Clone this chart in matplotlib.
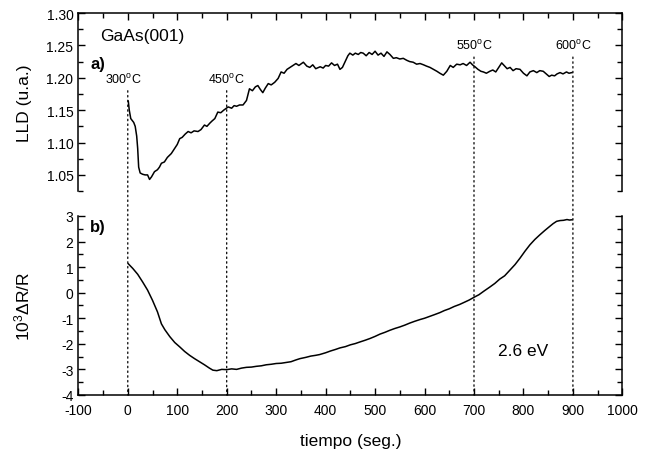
import matplotlib
matplotlib.use("Agg")
import matplotlib.pyplot as plt
from matplotlib.patches import ConnectionPatch
from matplotlib.ticker import MultipleLocator

plt.rcParams["font.family"] = ["Liberation Sans", "DejaVu Sans"]
plt.rcParams["mathtext.fontset"] = "custom"
plt.rcParams["mathtext.rm"] = "Liberation Sans"
plt.rcParams["mathtext.it"] = "Liberation Sans:italic"
plt.rcParams["axes.unicode_minus"] = False

# panel a) LLD signal vs time
lld_t = [1, 3, 6, 9, 12, 15, 18, 20, 22, 25,
         30, 35, 40, 44, 48, 54, 60, 64, 68, 74,
         80, 88, 94, 100, 105, 110, 116, 122, 128, 134,
         142, 148, 155, 160, 166, 170, 176, 182, 188, 194,
         203, 210, 215, 220, 226, 233, 240, 246, 252, 258,
         263, 268, 273, 278, 284, 290, 297, 304, 310, 316,
         322, 328, 334, 340, 346, 355, 362, 368, 374, 380,
         389, 395, 400, 406, 412, 418, 424, 429, 434, 440,
         445, 449, 455, 460, 466, 471, 476, 482, 488, 494,
         500, 506, 512, 518, 524, 530, 537, 543, 550, 557,
         564, 570, 577, 584, 591, 598, 604, 611, 618, 625,
         631, 638, 645, 652, 658, 665, 672, 678, 685, 692,
         697, 702, 708, 714, 719, 725, 732, 738, 744, 750,
         756, 762, 767, 773, 779, 785, 793, 800, 807, 813,
         820, 827, 833, 840, 846, 852, 857, 863, 868, 874,
         880, 887, 892, 898]
lld_v = [1.164, 1.150, 1.137, 1.134, 1.131, 1.125, 1.110, 1.091, 1.062, 1.053,
         1.051, 1.050, 1.050, 1.043, 1.047, 1.055, 1.058, 1.062, 1.068, 1.070,
         1.077, 1.083, 1.090, 1.097, 1.106, 1.108, 1.113, 1.117, 1.115, 1.118,
         1.117, 1.120, 1.127, 1.125, 1.130, 1.133, 1.137, 1.147, 1.146, 1.150,
         1.155, 1.153, 1.157, 1.156, 1.158, 1.158, 1.165, 1.183, 1.180, 1.186,
         1.188, 1.182, 1.177, 1.184, 1.191, 1.189, 1.193, 1.199, 1.209, 1.207,
         1.213, 1.216, 1.219, 1.222, 1.219, 1.224, 1.218, 1.216, 1.220, 1.214,
         1.217, 1.215, 1.219, 1.218, 1.223, 1.219, 1.221, 1.213, 1.216, 1.226,
         1.234, 1.238, 1.235, 1.238, 1.236, 1.239, 1.238, 1.234, 1.239, 1.236,
         1.241, 1.235, 1.238, 1.233, 1.240, 1.236, 1.230, 1.231, 1.229, 1.230,
         1.227, 1.225, 1.224, 1.221, 1.222, 1.220, 1.218, 1.216, 1.213, 1.210,
         1.207, 1.204, 1.210, 1.219, 1.216, 1.221, 1.220, 1.222, 1.219, 1.224,
         1.220, 1.217, 1.213, 1.210, 1.209, 1.207, 1.210, 1.212, 1.209, 1.216,
         1.223, 1.218, 1.214, 1.216, 1.211, 1.214, 1.213, 1.207, 1.203, 1.209,
         1.211, 1.208, 1.211, 1.210, 1.206, 1.202, 1.204, 1.203, 1.206, 1.208,
         1.206, 1.209, 1.207, 1.208]

# panel b) 10^3 dR/R at 2.6 eV
dr_t = [1, 10, 20, 30, 40, 50, 60, 68, 75, 85,
        95, 105, 115, 125, 135, 145, 155, 165, 172, 180,
        190, 200, 210, 220, 230, 240, 250, 260, 270, 280,
        290, 300, 310, 320, 330, 340, 348, 360, 370, 380,
        388, 400, 410, 420, 429, 440, 450, 460, 469, 480,
        490, 500, 510, 520, 530, 540, 550, 560, 570, 580,
        591, 600, 610, 620, 631, 640, 650, 660, 671, 680,
        690, 702, 710, 720, 732, 742, 752, 762, 773, 783,
        793, 803, 813, 823, 833, 843, 853, 860, 867, 874,
        881, 888, 893, 898]
dr_v = [1.13, 0.95, 0.72, 0.42, 0.10, -0.30, -0.75, -1.22, -1.45, -1.72,
        -1.95, -2.12, -2.30, -2.45, -2.58, -2.70, -2.82, -2.95, -3.03, -3.05,
        -3.00, -3.01, -2.98, -3.00, -2.95, -2.92, -2.91, -2.88, -2.86, -2.82,
        -2.80, -2.77, -2.76, -2.73, -2.70, -2.63, -2.58, -2.53, -2.48, -2.45,
        -2.42, -2.35, -2.28, -2.22, -2.16, -2.11, -2.04, -1.99, -1.93, -1.86,
        -1.79, -1.71, -1.62, -1.55, -1.47, -1.40, -1.34, -1.27, -1.19, -1.12,
        -1.05, -1.00, -0.93, -0.86, -0.78, -0.70, -0.63, -0.54, -0.46, -0.38,
        -0.29, -0.16, -0.08, 0.06, 0.22, 0.36, 0.53, 0.66, 0.89, 1.10,
        1.35, 1.62, 1.87, 2.08, 2.26, 2.43, 2.59, 2.70, 2.79, 2.82,
        2.83, 2.86, 2.84, 2.85]

# temperature markers
temp_t = [0, 200, 700, 900]
temp_labels = ["300", "450", "550", "600"]
temp_lld = [1.180, 1.180, 1.232, 1.232]

fig = plt.figure(figsize=(6.5, 4.52), dpi=100)
ax1 = fig.add_axes([0.1205, 0.575, 0.837, 0.394])
ax2 = fig.add_axes([0.1205, 0.124, 0.837, 0.396])

ax1.plot(lld_t, lld_v, color="black", lw=1.1)
ax2.plot(dr_t, dr_v, color="black", lw=1.1)

ax1.set_xlim(-100, 1000)
ax1.set_ylim(1.025, 1.30)
ax2.set_xlim(-100, 1000)
ax2.set_ylim(-4, 3)

ax1.spines["bottom"].set_visible(False)
ax2.spines["top"].set_visible(False)
for ax in (ax1, ax2):
    for s in ax.spines.values():
        s.set_linewidth(1.1)
    ax.xaxis.set_major_locator(MultipleLocator(100))
    ax.xaxis.set_minor_locator(MultipleLocator(50))
    ax.tick_params(which="both", direction="in", labelsize=10, width=1.0)
    ax.tick_params(which="major", length=5)
    ax.tick_params(which="minor", length=3.5)

ax1.yaxis.set_major_locator(MultipleLocator(0.05))
ax1.yaxis.set_minor_locator(MultipleLocator(0.025))
ax1.yaxis.set_major_formatter(plt.FormatStrFormatter("%.2f"))
ax1.tick_params(which="both", top=True, bottom=False, right=True,
                labelbottom=False)
ax2.yaxis.set_major_locator(MultipleLocator(1))
ax2.yaxis.set_minor_locator(MultipleLocator(0.5))
ax2.tick_params(which="both", top=False, bottom=True, right=True)
ax2.tick_params(axis="x", pad=6)

ax1.set_ylabel("LLD (u.a.)", fontsize=12.5)
ax2.set_ylabel("10$^3$ΔR/R", fontsize=12.5)
ax1.yaxis.set_label_coords(-0.085, 0.5)
ax2.yaxis.set_label_coords(-0.085, 0.5)
ax2.set_xlabel("tiempo (seg.)", fontsize=12.5, labelpad=11)

ax1.text(-56, 1.2646, "GaAs(001)", fontsize=12.5, va="center")
ax1.text(-76, 1.2215, "a)", fontsize=12, fontweight="bold", va="center")
ax2.text(-76, 2.6, "b)", fontsize=12, fontweight="bold", va="center")
ax2.text(748, -2.27, "2.6 eV", fontsize=12.5, va="center")

# dotted guides across both panels
for t, lab, y0 in zip(temp_t, temp_labels, temp_lld):
    off = -8 if t == 0 else 0
    ax1.text(t + off, y0 + 0.008, lab + r"$^{\mathrm{o}}$C", fontsize=9,
             ha="center", va="bottom")
    con = ConnectionPatch(xyA=(t, y0), coordsA=ax1.transData,
                          xyB=(t, -4), coordsB=ax2.transData,
                          linestyle=(0, (1.2, 2.6)), lw=0.9, color="black")
    fig.add_artist(con)

fig.savefig("out.png", dpi=100)
